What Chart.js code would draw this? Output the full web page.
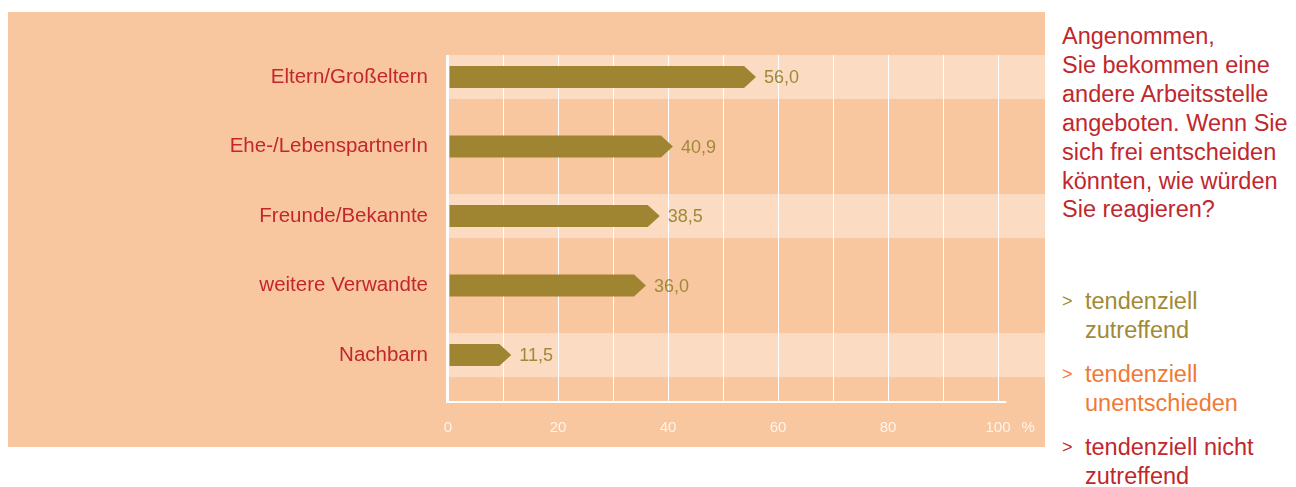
<!DOCTYPE html>
<html lang="de">
<head>
<meta charset="utf-8">
<title>Kontakte</title>
<script src="https://cdn.jsdelivr.net/npm/chart.js@4.4.1/dist/chart.umd.min.js"></script>
<style>
  html, body { margin: 0; padding: 0; background: #fff; }
  body {
    width: 1296px; height: 487px; position: relative; overflow: hidden;
    font-family: "Liberation Sans", Arial, sans-serif;
  }
  #panel {
    position: absolute; left: 8px; top: 12px;
    width: 1037px; height: 435px; background: #f8c7a0;
  }
  #question {
    position: absolute; left: 1062px; top: 22px;
    font-size: 23.5px; line-height: 28.9px; color: #c1272d;
  }
  .item {
    position: absolute; left: 1062px;
    font-size: 23.5px; line-height: 29px;
  }
  .item .mark {
    position: absolute; left: 0; top: 0; font-size: 18px;
  }
  .item .txt { margin-left: 23px; }
</style>
</head>
<body>
<div id="panel"><canvas id="chart" width="1037" height="435"></canvas></div>

<div id="question">Angenommen,<br>Sie bekommen eine<br>andere Arbeitsstelle<br>angeboten. Wenn Sie<br>sich frei entscheiden<br>könnten, wie würden<br>Sie reagieren?</div>

<div class="item" style="top:287px;color:#a08a35"><span class="mark">&gt;</span><div class="txt">tendenziell<br>zutreffend</div></div>
<div class="item" style="top:360px;color:#f07a35"><span class="mark">&gt;</span><div class="txt">tendenziell<br>unentschieden</div></div>
<div class="item" style="top:433px;color:#c1272d"><span class="mark">&gt;</span><div class="txt">tendenziell nicht<br>zutreffend</div></div>

<script>
const categories = ["Eltern/Großeltern", "Ehe-/LebenspartnerIn", "Freunde/Bekannte", "weitere Verwandte", "Nachbarn"];
const shares = [56.0, 40.9, 38.5, 36.0, 11.5];
const xTicks = [0, 20, 40, 60, 80, 100];
const unitLabel = "%";

const FONT = '"Liberation Sans", Arial, sans-serif';
const tickColor = "#fff4ea";
const barColor = "#9f8432";
const valueColor = "#a08a3a";

// light stripes behind every other row, axis lines and the % unit
const panelDecor = {
  id: "panelDecor",
  beforeDraw(chart) {
    const { ctx, scales: { x, y } } = chart;
    const left = x.getPixelForValue(0) + 1;
    ctx.save();
    ctx.fillStyle = "#fbdbc2";
    for (let i = 0; i < categories.length; i += 2) {
      const cy = y.getPixelForValue(i);
      ctx.fillRect(left, cy - 22, chart.width - left, 44);
    }
    ctx.restore();
  },
  beforeDatasetsDraw(chart) {
    const { ctx, chartArea, scales: { x } } = chart;
    const x0 = x.getPixelForValue(0) - 1;
    ctx.save();
    ctx.strokeStyle = "#ffffff";
    ctx.lineWidth = 2;
    ctx.beginPath();
    ctx.moveTo(x0, chartArea.top);
    ctx.lineTo(x0, chartArea.bottom + 1);
    ctx.lineTo(x.getPixelForValue(101.5), chartArea.bottom + 1);
    ctx.stroke();

    ctx.fillStyle = tickColor;
    ctx.font = "15px " + FONT;
    ctx.textAlign = "center";
    ctx.textBaseline = "middle";
    ctx.fillText(unitLabel, x.getPixelForValue(105.5), chartArea.bottom + 27);
    ctx.restore();
  },
  // bars are drawn as arrows pointing at their value
  afterDatasetsDraw(chart) {
    const { ctx } = chart;
    const meta = chart.getDatasetMeta(0);
    ctx.save();
    meta.data.forEach((bar, i) => {
      const { x, y, base, height } = bar.getProps(["x", "y", "base", "height"], true);
      const h = height / 2;
      const head = 12;
      ctx.fillStyle = barColor;
      ctx.beginPath();
      ctx.moveTo(base + 1, y - h);
      ctx.lineTo(x - head, y - h);
      ctx.lineTo(x, y);
      ctx.lineTo(x - head, y + h);
      ctx.lineTo(base + 1, y + h);
      ctx.closePath();
      ctx.fill();

      ctx.fillStyle = valueColor;
      ctx.font = "18px " + FONT;
      ctx.textAlign = "left";
      ctx.textBaseline = "middle";
      ctx.fillText(shares[i].toFixed(1).replace(".", ","), x + 8, y + 1);
    });
    ctx.restore();
  }
};

new Chart(document.getElementById("chart"), {
  type: "bar",
  data: {
    datasets: [{
      data: categories.map((c, i) => ({ x: shares[i], y: i })),
      backgroundColor: "rgba(0,0,0,0)",
      barThickness: 22
    }]
  },
  options: {
    indexAxis: "y",
    responsive: false,
    animation: false,
    layout: { padding: { top: 43, right: 47, bottom: 10, left: 0 } },
    plugins: { legend: { display: false }, tooltip: { enabled: false } },
    scales: {
      x: {
        type: "linear",
        min: 0,
        max: 100,
        afterFit: s => { s.height = 36; },
        ticks: {
          stepSize: 10,
          autoSkip: false,
          maxRotation: 0,
          padding: 18,
          color: tickColor,
          font: { size: 15, family: FONT },
          callback: v => (xTicks.includes(v) ? String(v) : "")
        },
        grid: { color: "#ffffff", lineWidth: 1, drawTicks: false },
        border: { display: false }
      },
      y: {
        type: "linear",
        reverse: true,
        offset: false,
        min: -0.317,
        max: 4.66,
        afterFit: s => { s.width = 440; },
        ticks: {
          stepSize: 1,
          includeBounds: false,
          padding: 20,
          color: "#c1272d",
          font: { size: 20.5, family: FONT },
          callback: v => categories[v] ?? ""
        },
        grid: { display: false, drawTicks: false, offset: false },
        border: { display: false }
      }
    }
  },
  plugins: [panelDecor]
});
</script>
</body>
</html>
